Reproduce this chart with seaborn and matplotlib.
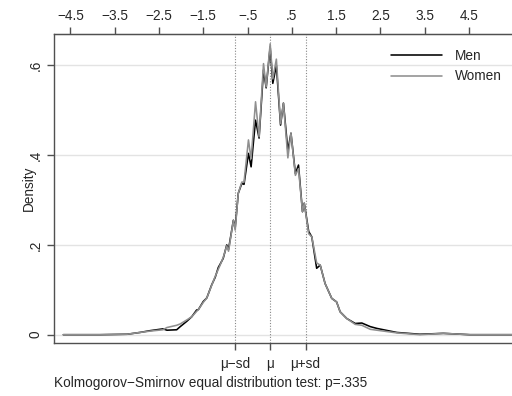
import matplotlib
matplotlib.use("Agg")
import matplotlib.pyplot as plt
import seaborn as sns
import pandas as pd
import numpy as np

# ---- data ----
x_vals = [-4.66, -3.83, -3.22, -2.93, -2.70, -2.41, -2.32, -2.10, -2.02, -1.87,
          -1.76, -1.65, -1.61, -1.50, -1.42, -1.31, -1.23, -1.16, -1.12, -1.05,
          -0.97, -0.93, -0.82, -0.78, -0.71, -0.63, -0.58, -0.48, -0.42, -0.32,
          -0.24, -0.14, -0.08, 0.01, 0.07, 0.15, 0.245, 0.31, 0.41, 0.48,
          0.58, 0.65, 0.74, 0.78, 0.88, 0.95, 1.06, 1.14, 1.25, 1.40,
          1.51, 1.59, 1.74, 1.93, 2.08, 2.27, 2.42, 2.87, 3.39, 3.92,
          4.52, 5.47]
women = [0.000, 0.000, 0.001, 0.005, 0.008, 0.011, 0.016, 0.021, 0.024, 0.033,
         0.040, 0.052, 0.056, 0.072, 0.082, 0.110, 0.130, 0.146, 0.155, 0.172,
         0.198, 0.186, 0.255, 0.233, 0.315, 0.340, 0.340, 0.434, 0.392, 0.519,
         0.441, 0.604, 0.552, 0.648, 0.570, 0.614, 0.470, 0.516, 0.394, 0.449,
         0.355, 0.370, 0.274, 0.293, 0.225, 0.218, 0.160, 0.155, 0.114, 0.081,
         0.073, 0.051, 0.036, 0.023, 0.021, 0.012, 0.010, 0.004, 0.000, 0.003,
         0.000, 0.000]
men = [0.000, 0.000, 0.001, 0.005, 0.009, 0.013, 0.010, 0.011, 0.018, 0.030,
       0.040, 0.055, 0.056, 0.074, 0.082, 0.111, 0.128, 0.150, 0.157, 0.170,
       0.200, 0.190, 0.255, 0.238, 0.315, 0.337, 0.335, 0.404, 0.374, 0.478,
       0.438, 0.590, 0.550, 0.641, 0.560, 0.600, 0.467, 0.516, 0.410, 0.449,
       0.359, 0.378, 0.274, 0.293, 0.230, 0.218, 0.148, 0.155, 0.114, 0.081,
       0.073, 0.051, 0.036, 0.025, 0.026, 0.018, 0.014, 0.005, 0.001, 0.003,
       0.000, 0.000]
mu = 0.01
sd = 0.80
top_ticks = [-4.5, -3.5, -2.5, -1.5, -0.5, 0.5, 1.5, 2.5, 3.5, 4.5]
top_labels = ["\u22124.5", "\u22123.5", "\u22122.5", "\u22121.5", "\u2212.5",
              ".5", "1.5", "2.5", "3.5", "4.5"]
y_ticks = [0, 0.2, 0.4, 0.6]
y_labels = ["0", ".2", ".4", ".6"]
bottom_labels = ["\u03bc\u2212sd", "\u03bc", "\u03bc+sd"]
footer = "Kolmogorov\u2212Smirnov equal distribution test: p=.335"

df = pd.concat([
    pd.DataFrame({"x": x_vals, "density": men, "group": "Men"}),
    pd.DataFrame({"x": x_vals, "density": women, "group": "Women"}),
])

sns.set_style("white")
plt.rcParams["font.family"] = ["Liberation Sans", "DejaVu Sans"]
FS = 9.8

fig = plt.figure(figsize=(5.12, 3.96), dpi=100)
ax = fig.add_axes([54 / 512, 1 - 343 / 396, 1 - 54 / 512, (343 - 34) / 396])

# grid
for yt in y_ticks:
    ax.axhline(yt, color="#e3e3e3", lw=1.0, zorder=0)
# reference lines
for xv in [mu - sd, mu, mu + sd]:
    ax.axvline(xv, color="#888888", lw=0.8, ls=(0, (1, 1.5)), zorder=1)

sns.lineplot(data=df, x="x", y="density", hue="group",
             palette={"Men": "#000000", "Women": "#8f8f8f"},
             hue_order=["Men", "Women"], linewidth=1.15, ax=ax,
             estimator=None, sort=False, legend=True)

ax.set_xlim(-4.87, 5.47)
ax.set_ylim(-0.0185, 0.670)

spine_c = "#505050"
for s in ["left", "bottom", "top"]:
    ax.spines[s].set_color(spine_c)
    ax.spines[s].set_linewidth(1.0)
ax.spines["right"].set_visible(False)

ax.set_xticks([mu - sd, mu, mu + sd])
ax.set_xticklabels(bottom_labels, fontsize=FS)
ax.set_yticks(y_ticks)
ax.set_yticklabels(y_labels, fontsize=FS, rotation=90, va="center")
ax.tick_params(axis="both", direction="out", length=5, width=1, color=spine_c,
               pad=3, bottom=True, left=True)
ax.tick_params(axis="x", pad=5)
ax.set_xlabel("")
ax.set_ylabel("Density", fontsize=FS)
ax.yaxis.set_label_coords((36 - 54) / 458, 0.5)

sec = ax.secondary_xaxis("top")
sec.set_xticks(top_ticks)
sec.set_xticklabels(top_labels, fontsize=FS)
sec.tick_params(direction="out", length=5, width=1, color=spine_c, pad=3)
sec.spines["top"].set_color(spine_c)

leg = ax.legend(loc="upper right", frameon=False, fontsize=FS,
                handlelength=3.7, borderaxespad=0.6, labelspacing=0.45,
                handletextpad=1.0, bbox_to_anchor=(1.008, 0.995))
for h in leg.get_lines():
    h.set_linewidth(1.15)

fig.text(54 / 512, 1 - 383 / 396, footer, fontsize=FS, ha="left", va="center")

fig.savefig("out.png", dpi=100)
